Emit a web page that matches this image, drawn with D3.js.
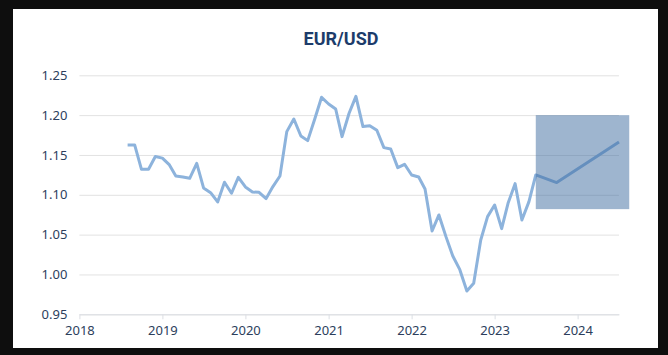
<!DOCTYPE html>
<html>
<head>
<meta charset="utf-8">
<script src="https://cdn.jsdelivr.net/npm/d3@7"></script>
<style>
  html, body { margin: 0; padding: 0; background: #0e0e0e; }
  svg { display: block; }
</style>
</head>
<body>
<svg id="chart" width="668" height="355"></svg>
<script>
// ---- data ----
const title = "EUR/USD";
const histMonths = [
  "2018-08","2018-09","2018-10","2018-11","2018-12",
  "2019-01","2019-02","2019-03","2019-04","2019-05","2019-06","2019-07","2019-08","2019-09","2019-10","2019-11","2019-12",
  "2020-01","2020-02","2020-03","2020-04","2020-05","2020-06","2020-07","2020-08","2020-09","2020-10","2020-11","2020-12",
  "2021-01","2021-02","2021-03","2021-04","2021-05","2021-06","2021-07","2021-08","2021-09","2021-10","2021-11","2021-12",
  "2022-01","2022-02","2022-03","2022-04","2022-05","2022-06","2022-07","2022-08","2022-09","2022-10","2022-11","2022-12",
  "2023-01","2023-02","2023-03","2023-04","2023-05","2023-06","2023-07"
];
const histValues = [
  1.1626, 1.1626, 1.132, 1.132, 1.148,
  1.146, 1.1375, 1.1236, 1.1224, 1.1207, 1.1395, 1.1086, 1.1027, 1.091, 1.1157, 1.1019, 1.122,
  1.1098, 1.1036, 1.1031, 1.0952, 1.1103, 1.1236, 1.1793, 1.1952, 1.1738, 1.168, 1.1952, 1.2224,
  1.214, 1.2077, 1.173, 1.2023, 1.2236, 1.1856, 1.1868, 1.181, 1.1592, 1.1575, 1.1341, 1.1383,
  1.1249, 1.1224, 1.1073, 1.0546, 1.0747, 1.0475, 1.0232, 1.006, 0.9793, 0.9889, 1.0433, 1.0726,
  1.0872, 1.0575, 1.0893, 1.114, 1.0684, 1.0914, 1.1249
];
const forecastMonths = ["2023-07", "2023-10", "2024-07"];
const forecastValues = [1.1249, 1.1153, 1.1663];
const rangeMonths = ["2023-07-01", "2024-08-15"];
const rangeValues = [1.082, 1.200];
const yTicks = [0.95, 1.00, 1.05, 1.10, 1.15, 1.20, 1.25];
const xTickYears = ["2018", "2019", "2020", "2021", "2022", "2023", "2024"];

(function () {
// ---- layout ----
const mLeft = 79.4, mRight = 619, mTop = 75.3, mBottom = 314.3;
const svg = d3.select("#chart");

svg.append("rect").attr("x", 13).attr("y", 9).attr("width", 645).attr("height", 339).attr("fill", "#ffffff");

const parse = d3.utcParse("%Y-%m");
const parseD = d3.utcParse("%Y-%m-%d");
const x = d3.scaleUtc().domain([parseD("2018-01-01"), parseD("2024-07-01")]).range([mLeft, mRight]);
const y = d3.scaleLinear().domain([0.95, 1.25]).range([mBottom, mTop]);

const textColor = "#2c3e5c";

// title
svg.append("text").attr("x", 341).attr("y", 45).attr("text-anchor", "middle")
  .attr("font-family", "Roboto, 'Noto Sans', sans-serif").attr("font-weight", 700)
  .attr("font-size", 18).attr("fill", "#1d3c6b").text(title);

// gridlines + y labels
const yAxis = d3.axisLeft(y).tickValues(yTicks).tickSize(-(mRight - mLeft)).tickPadding(12)
  .tickFormat(d3.format(".2f"));
const gy = svg.append("g").attr("transform", `translate(${mLeft},0)`).call(yAxis);
gy.select(".domain").remove();
gy.selectAll(".tick line").attr("stroke", "#e2e2e2").attr("stroke-width", 1);
gy.selectAll(".tick text").attr("font-family", "'Noto Sans', sans-serif").attr("font-size", 13)
  .attr("fill", textColor);

// x axis
const xAxis = d3.axisBottom(x).tickValues(xTickYears.map(s => parseD(s + "-01-01")))
  .tickFormat(d3.utcFormat("%Y")).tickSize(5).tickSizeOuter(0).tickPadding(6);
const gx = svg.append("g").attr("transform", `translate(0,${mBottom})`).call(xAxis);
gx.select(".domain").attr("stroke", "#dcdfe4");
gx.selectAll(".tick line").attr("stroke", "#dcdfe4");
gx.selectAll(".tick text").attr("font-family", "'Noto Sans', sans-serif").attr("font-size", 13)
  .attr("fill", textColor);

// line (history + forecast)
const pts = histMonths.map((m, i) => [parse(m), histValues[i]])
  .concat(forecastMonths.slice(1).map((m, i) => [parse(m), forecastValues[i + 1]]));
const line = d3.line().x(d => x(d[0])).y(d => y(d[1]));
svg.append("path").datum(pts).attr("d", line).attr("fill", "none")
  .attr("stroke", "#8db3dc").attr("stroke-width", 3).attr("stroke-linejoin", "round");

// forecast range box
svg.append("rect")
  .attr("x", x(parseD(rangeMonths[0])))
  .attr("y", y(rangeValues[1]))
  .attr("width", x(parseD(rangeMonths[1])) - x(parseD(rangeMonths[0])))
  .attr("height", y(rangeValues[0]) - y(rangeValues[1]))
  .attr("fill", "#3e6b9f").attr("fill-opacity", 0.5);
})();
</script>
</body>
</html>
